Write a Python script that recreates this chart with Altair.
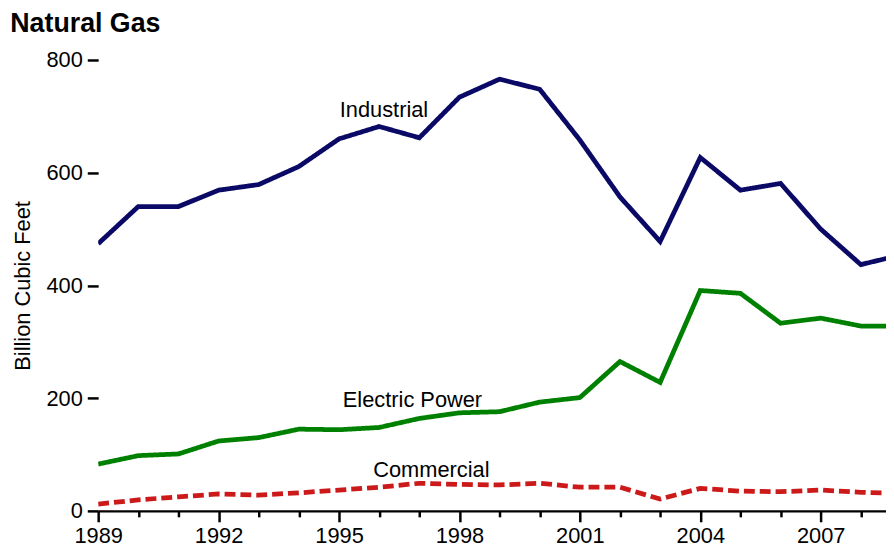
import altair as alt
import pandas as pd

years = list(range(1989, 2010))
industrial = [474, 540, 540, 569, 579, 611, 660, 682, 662, 734, 766, 748, 658, 557, 478, 627, 569, 581, 500, 437, 454]
electric = [83, 98, 101, 124, 130, 145, 144, 148, 164, 174, 176, 193, 201, 265, 228, 391, 386, 333, 342, 328, 328]
commercial = [12, 19.5, 25, 30, 28, 32, 37, 42, 49, 47, 46, 49, 42, 42, 21, 40, 35, 34, 37, 33, 31]

series_names = ["Industrial", "Electric Power", "Commercial"]
series_colors = ["#0a0a66", "#008000", "#cc1a1a"]

label_text = ["Industrial", "Electric Power", "Commercial"]
label_year = [1996.12, 1996.83, 1997.3]
label_value = [699, 185, 61]

tick_years = list(range(1989, 2009))
y_ticks = [0, 200, 400, 600, 800]

FONT = "Liberation Sans"

rows = []
for name, vals in zip(series_names, [industrial, electric, commercial]):
    for yr, v in zip(years, vals):
        rows.append({"year": yr, "value": v, "series": name})
df = pd.DataFrame(rows)
labels = pd.DataFrame({"text": label_text, "year": label_year, "value": label_value})

x_scale = alt.Scale(domain=[1989, 2008.8], nice=False, zero=False)
y_scale = alt.Scale(domain=[0, 800], nice=False)

x_axis = alt.Axis(
    values=tick_years,
    labelExpr="datum.value % 3 == 0 ? toString(datum.value) : ''",
    title=None,
    grid=False,
    domainColor="black",
    domainWidth=2.5,
    tickColor="black",
    tickWidth=2.5,
    tickSize={"condition": {"test": "datum.value % 3 == 0", "value": 11}, "value": 6},
    labelPadding=4,
    labelFont=FONT,
    labelFontSize=22,
    labelColor="black",
    labelFlush=False,
    labelOverlap=False,
)
y_axis = alt.Axis(
    values=y_ticks,
    title="Billion Cubic Feet",
    titleFont=FONT,
    titleFontSize=22,
    titleFontWeight="normal",
    titleColor="black",
    titlePadding=12,
    grid=False,
    domain=False,
    tickColor="black",
    tickWidth=2.5,
    tickSize=11,
    labelPadding=5,
    labelFont=FONT,
    labelFontSize=22,
    labelColor="black",
)

color = alt.Color(
    "series:N",
    scale=alt.Scale(domain=series_names, range=series_colors),
    legend=None,
)
dash = alt.StrokeDash(
    "series:N",
    scale=alt.Scale(domain=series_names, range=[[1, 0], [1, 0], [11, 5]]),
    legend=None,
)
width = alt.StrokeWidth(
    "series:N",
    scale=alt.Scale(domain=series_names, range=[4.8, 4.8, 2.0]),
    legend=None,
)

lines = alt.Chart(df).mark_line(clip=True).encode(
    x=alt.X("year:Q", scale=x_scale, axis=x_axis),
    y=alt.Y("value:Q", scale=y_scale, axis=y_axis),
    color=color,
    strokeDash=dash,
    strokeWidth=width,
    detail="series:N",
)

texts = alt.Chart(labels).mark_text(
    font=FONT, fontSize=22, color="black", align="center", baseline="alphabetic"
).encode(
    x=alt.X("year:Q", scale=x_scale),
    y=alt.Y("value:Q", scale=y_scale),
    text="text:N",
)

chart = alt.layer(lines, texts).properties(
    width=886,
    height=541,
    autosize=alt.AutoSizeParams(type="fit", contains="padding"),
    padding={"left": 2, "top": 0, "right": -7, "bottom": 0},
    title=alt.TitleParams(
        "Natural Gas",
        font=FONT,
        fontSize=27,
        fontWeight="bold",
        color="black",
        anchor="start",
        frame="bounds",
        dx=-1,
        offset=11,
    ),
).configure(background="white").configure_view(strokeWidth=0, stroke="transparent")

chart.save("out.html", embed_options={"renderer": "svg", "actions": False})
